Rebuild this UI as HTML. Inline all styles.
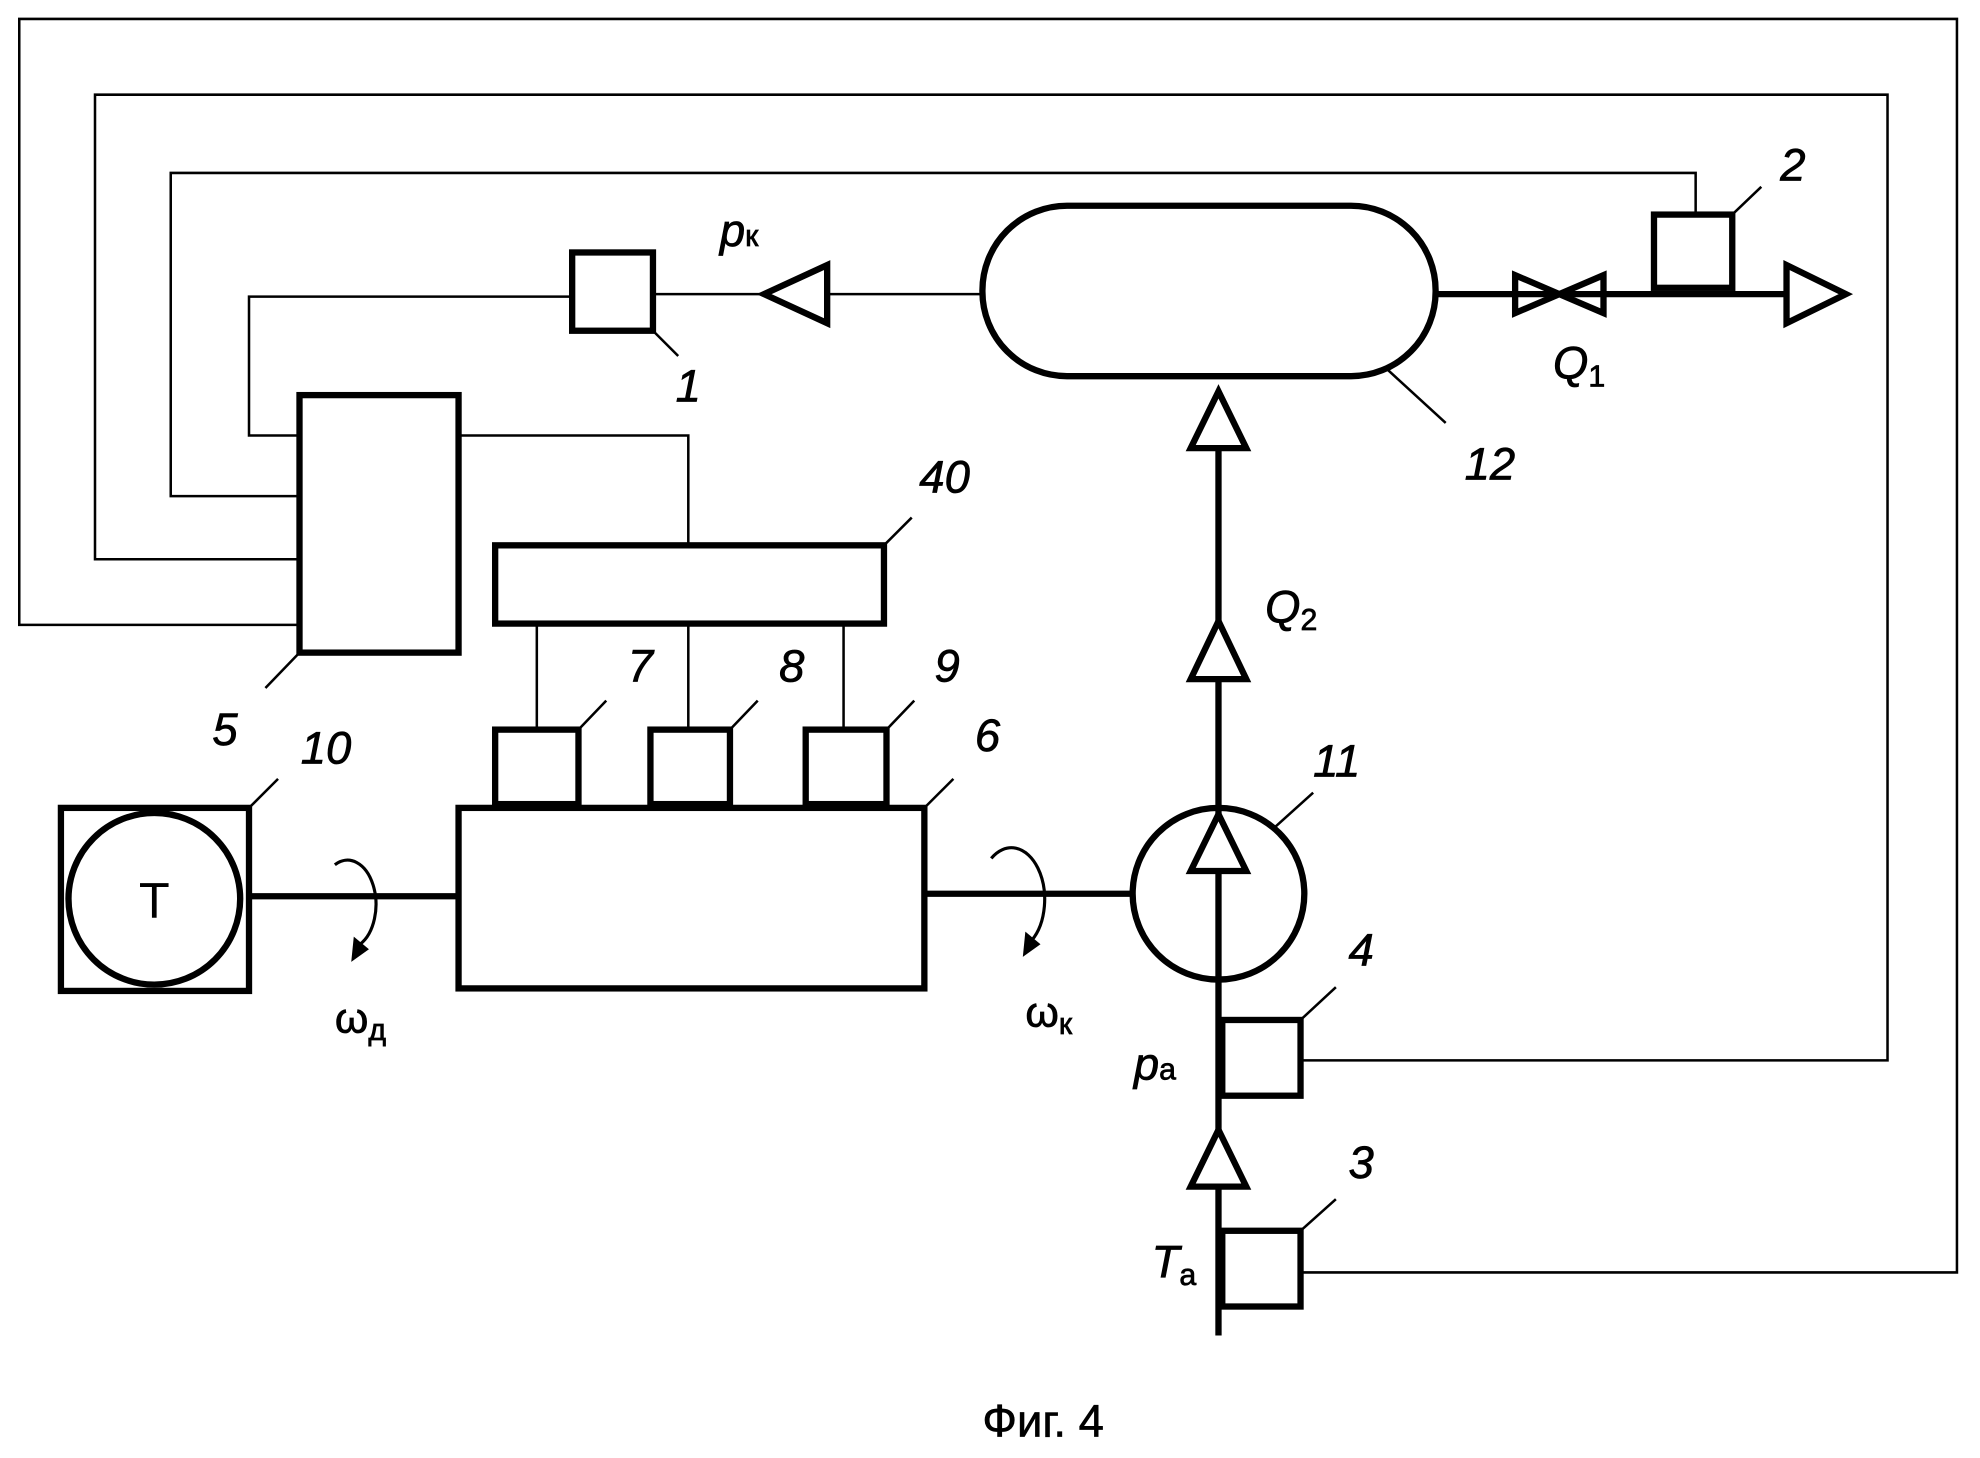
<!DOCTYPE html>
<html><head><meta charset="utf-8"><style>
html,body{margin:0;padding:0;background:#fff;}
svg{display:block;}
text{font-family:"Liberation Sans",sans-serif;fill:#000;}
.it{font-style:italic;font-size:36px;stroke:#000;stroke-width:0.6;}
</style></head><body>
<svg width="1980" height="1458" viewBox="0 0 1568 1155" xmlns="http://www.w3.org/2000/svg">
<g fill="none" stroke="#000" stroke-width="2">
<polyline points="237,495 15,495 15,15 1550,15 1550,1008 1030,1008"/>
<polyline points="237,443 75,443 75,75 1495,75 1495,840 1030,840"/>
<polyline points="237,393 135,393 135,137 1343,137 1343,170"/>
<polyline points="237,345 197,345 197,235 453,235"/>
<polyline points="363,345 545,345 545,432"/>
<line x1="517" y1="233" x2="605" y2="233"/>
<line x1="655" y1="233" x2="778" y2="233"/>
<line x1="425" y1="494" x2="425" y2="578"/>
<line x1="545" y1="494" x2="545" y2="578"/>
<line x1="668" y1="494" x2="668" y2="578"/>
<line x1="517" y1="262" x2="537" y2="282"/>
<line x1="1372" y1="170" x2="1395" y2="148"/>
<line x1="1098" y1="292" x2="1145" y2="335"/>
<line x1="700" y1="432" x2="722" y2="410"/>
<line x1="237" y1="517" x2="210" y2="545"/>
<line x1="458" y1="578" x2="480" y2="555"/>
<line x1="578" y1="578" x2="600" y2="555"/>
<line x1="702" y1="578" x2="724" y2="555"/>
<line x1="732" y1="640" x2="755" y2="617"/>
<line x1="197" y1="640" x2="220" y2="617"/>
<line x1="1010" y1="655" x2="1040" y2="628"/>
<line x1="1030" y1="808" x2="1058" y2="782"/>
<line x1="1030" y1="975" x2="1058" y2="950"/>
</g>
<g fill="none" stroke="#000" stroke-width="5">
<rect x="237" y="313" width="126" height="204"/>
<rect x="392" y="432" width="308" height="62"/>
<rect x="392" y="578" width="66" height="59"/>
<rect x="515" y="578" width="63" height="59"/>
<rect x="638" y="578" width="64" height="59"/>
<rect x="363" y="640" width="369" height="143"/>
<rect x="48" y="640" width="149" height="145"/>
<circle cx="122" cy="712" r="68"/>
<rect x="453" y="200" width="64" height="62"/>
<rect x="778" y="163" width="359" height="135" rx="67" ry="67"/>
<line x1="197" y1="710" x2="363" y2="710"/>
<line x1="732" y1="708" x2="897" y2="708"/>
<circle cx="965" cy="708" r="68"/>
<line x1="965" y1="1058" x2="965" y2="310"/>
<rect x="968" y="808" width="62" height="60"/>
<rect x="968" y="975" width="62" height="60"/>
<line x1="1137" y1="233" x2="1415" y2="233"/>
<rect x="1310" y="170" width="62" height="58"/>
<polygon points="605,233 655,210 655,256"/>
<polygon points="1462,233 1415,210 1415,256"/>
<polygon points="1200,218 1235,233 1200,248" />
<polygon points="1270,218 1235,233 1270,248" />
<polygon points="965,310 943,355 987,355" fill="#fff"/>
<polygon points="965,492 943,538 987,538" fill="#fff"/>
<polygon points="965,645 943,690 987,690" fill="#fff"/>
<polygon points="965,895 943,940 987,940" fill="#fff"/>
</g>
<g fill="none" stroke="#000" stroke-width="2.5">
<path d="M265,685 A18,28 0 1 1 285,748"/>
<path d="M785,680 A18,28 0 1 1 817,745"/>
</g>
<polygon points="280,742 292,752 278,762" fill="#000"/>
<polygon points="812,738 824,748 810,758" fill="#000"/>
<text x="122" y="727" font-size="40" text-anchor="middle">T</text>
<text class="it" x="535" y="318">1</text>
<text class="it" x="1410" y="143">2</text>
<text class="it" x="1068" y="933">3</text>
<text class="it" x="1068" y="765">4</text>
<text class="it" x="168" y="590">5</text>
<text class="it" x="772" y="595">6</text>
<text class="it" x="497" y="540">7</text>
<text class="it" x="617" y="540">8</text>
<text class="it" x="740" y="540">9</text>
<text class="it" x="238" y="605">10</text>
<text class="it" x="1040" y="615">11</text>
<text class="it" x="1160" y="380">12</text>
<text class="it" x="728" y="390">40</text>
<text class="it" x="570" y="195">p<tspan font-style="normal" font-size="24">к</tspan></text>
<text class="it" x="1230" y="300">Q<tspan font-style="normal" font-size="24" dy="6">1</tspan></text>
<text class="it" x="1002" y="493">Q<tspan font-style="normal" font-size="24" dy="6">2</tspan></text>
<text class="it" x="898" y="855">p<tspan font-style="normal" font-size="24">a</tspan></text>
<text class="it" x="912" y="1012">T<tspan font-style="normal" font-size="24" dy="6">a</tspan></text>
<text x="265" y="818" font-size="34" stroke="#000" stroke-width="0.6">ω<tspan font-size="24" dy="6">д</tspan></text>
<text x="812" y="813" font-size="34" stroke="#000" stroke-width="0.6">ω<tspan font-size="24" dy="6">к</tspan></text>
<text x="778" y="1138" font-size="36" stroke="#000" stroke-width="0.5">Фиг. 4</text>
</svg>
</body></html>
